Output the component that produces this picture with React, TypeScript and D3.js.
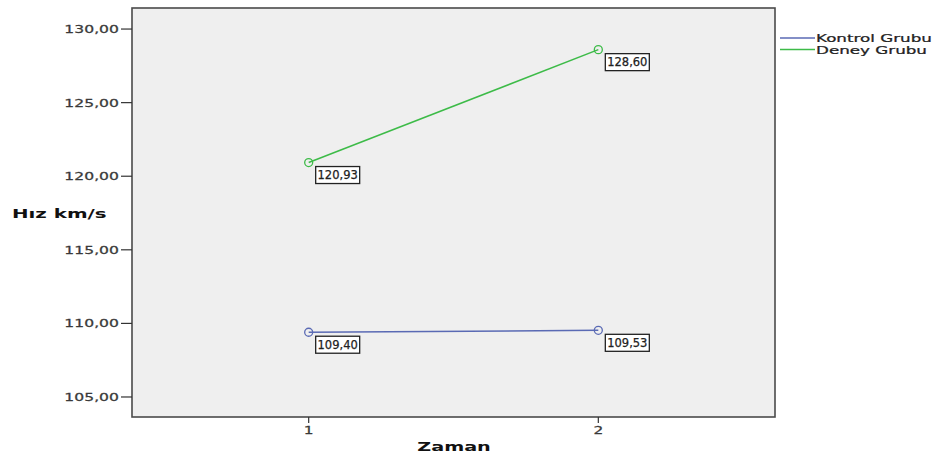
import React from "react";
import * as d3 from "d3";

const categories = ["1", "2"];
const seriesNames = ["Kontrol Grubu", "Deney Grubu"];
const kontrolValues = [109.4, 109.53];
const deneyValues = [120.93, 128.6];
const yTicks = [105, 110, 115, 120, 125, 130];
const colors = ["#5a6ab4", "#3dbb48"];

const W = 943;
const H = 457;
const plot = { left: 132, right: 775, top: 8, bottom: 417 };
const FONT = "DejaVu Sans, sans-serif";

function SText({ x, y, anchor = "start", size = 11, sx = 1.4, weight = "normal", fill = "#333", children }: any) {
  return (
    <text
      transform={`translate(${x},${y}) scale(${sx},1)`}
      textAnchor={anchor}
      fontSize={size}
      fontWeight={weight}
      fill={fill}
      stroke={weight === "bold" ? "none" : fill}
      strokeWidth={0.25}
      fontFamily={FONT}
    >
      {children}
    </text>
  );
}

export default function App() {
  const x = d3.scalePoint<string>().domain(categories).range([plot.left, plot.right]).padding(0.61);
  const y = d3.scaleLinear().domain([103.64, 131.43]).range([plot.bottom, plot.top]);
  const fmt = (v: number) => v.toFixed(2).replace(".", ",");
  const series = [kontrolValues, deneyValues];
  const line = d3
    .line<number>()
    .x((_, i) => x(categories[i])!)
    .y((d) => y(d));

  return (
    <svg width={W} height={H} style={{ position: "absolute", left: 0, top: 0, background: "#fff" }}>
      <rect
        x={plot.left}
        y={plot.top}
        width={plot.right - plot.left}
        height={plot.bottom - plot.top}
        fill="#efefef"
        stroke="#4a4a4a"
        strokeWidth={1.6}
      />
      {yTicks.map((t) => (
        <g key={t}>
          <line x1={plot.left - 11} x2={plot.left} y1={y(t)} y2={y(t)} stroke="#333" strokeWidth={1.2} />
          <SText x={plot.left - 13} y={y(t) + 4} anchor="end" size={11} sx={1.42} fill="#3a3a3a">
            {fmt(t)}
          </SText>
        </g>
      ))}
      {categories.map((c) => (
        <g key={c}>
          <line x1={x(c)!} x2={x(c)!} y1={plot.bottom} y2={plot.bottom + 6} stroke="#333" strokeWidth={1.2} />
          <SText x={x(c)!} y={plot.bottom + 17} anchor="middle" size={11} fill="#3a3a3a">
            {c}
          </SText>
        </g>
      ))}
      <SText x={12} y={218} size={12} sx={1.65} weight="bold" fill="#111">
        Hız km/s
      </SText>
      <SText x={454} y={451} anchor="middle" size={12} sx={1.6} weight="bold" fill="#111">
        Zaman
      </SText>
      {series.map((vals, si) => (
        <g key={si}>
          <path d={line(vals)!} fill="none" stroke={colors[si]} strokeWidth={1.5} />
          {vals.map((v, i) => (
            <g key={i}>
              <circle cx={x(categories[i])!} cy={y(v)} r={4} fill="none" stroke={colors[si]} strokeWidth={1.3} />
              <rect
                x={x(categories[i])! + 7}
                y={y(v) + 4}
                width={44}
                height={17}
                fill="#fff"
                stroke="#222"
                strokeWidth={1.3}
              />
              <text
                x={x(categories[i])! + 29}
                y={y(v) + 16.5}
                textAnchor="middle"
                fontSize={11.5}
                fontFamily={FONT}
                fill="#222"
                stroke="#222"
                strokeWidth={0.25}
              >
                {fmt(v)}
              </text>
            </g>
          ))}
        </g>
      ))}
      {seriesNames.map((name, i) => (
        <g key={name}>
          <line x1={780} x2={815} y1={38 + i * 11.5} y2={38 + i * 11.5} stroke={colors[i]} strokeWidth={1.4} />
          <SText x={816} y={42 + i * 11.5} size={10.8} sx={1.55} fill="#222">
            {name}
          </SText>
        </g>
      ))}
    </svg>
  );
}
